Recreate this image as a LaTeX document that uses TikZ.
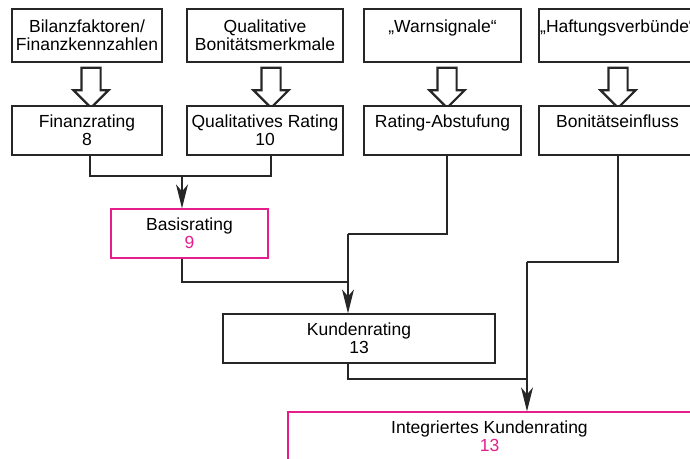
\documentclass[tikz,border=0pt]{standalone}
\usepackage{fontspec}
\setmainfont{Liberation Sans}
\usetikzlibrary{shapes.arrows, arrows.meta}
\definecolor{rosa}{RGB}{230,30,140}
\tikzstyle{box} = [rectangle, minimum height=49pt, inner sep=0pt, text centered, align=center, draw=black!85, line width=1.3pt, fill=white]
\tikzstyle{topbox} = [box, minimum height=53pt]
\tikzstyle{pbox} = [box, draw=rosa]
\tikzstyle{hollow} = [single arrow, draw=black!85, line width=2.2pt, shape border rotate=270, minimum height=40pt, single arrow head extend=8pt, inner sep=8.5pt]
\tikzstyle{line} = [line width=1.2pt, draw=black!85]
\tikzstyle{arrow} = [line, -{Stealth[length=24pt, width=12pt, inset=7pt]}]

\begin{document}
\begin{tikzpicture}[x=1pt, y=-1pt, font=\fontsize{17.5}{17.7}\selectfont]
\useasboundingbox (0,0) rectangle (690,458);

% obere Reihe
\node (bil) [topbox, minimum width=150pt] at (87,35.5) {Bilanzfaktoren/\\Finanzkennzahlen};
\node (qual) [topbox, minimum width=156pt] at (265,35.5) {Qualitative\\Bonitätsmerkmale};
\node (warn) [topbox, minimum width=157pt] at (442.5,35.5) {„Warnsignale“\\~};
\node (haft) [topbox, minimum width=157pt] at (617.5,35.5) {„Haftungsverbünde“\\~};

\node (h1) [hollow] at (91,83) {};
\node (h2) [hollow] at (271,83) {};
\node (h3) [hollow] at (447,83) {};
\node (h4) [hollow] at (618,83) {};

% zweite Reihe
\node (fin) [box, minimum width=150pt] at (87,130.5) {Finanzrating\\8};
\node (qrat) [box, minimum width=156pt] at (265,130.5) {Qualitatives Rating\\10};
\node (abst) [box, minimum width=157pt] at (442.5,130.5) {Rating-Abstufung\\~};
\node (bon) [box, minimum width=157pt] at (617.5,130.5) {Bonitätseinfluss\\~};

\node (basis) [pbox, minimum width=157pt] at (189.5,233.5) {Basisrating\\\textcolor{rosa}{9}};
\node (kunden) [box, minimum width=272pt] at (359,338.5) {Kundenrating\\13};
\node (integ) [pbox, minimum width=403pt] at (489.5,436.5) {Integriertes Kundenrating\\\textcolor{rosa}{13}};

\coordinate (j1) at (182,176);
\coordinate (j2) at (348,234);
\coordinate (j3) at (348,282);
\coordinate (j4) at (527,262);
\coordinate (j5) at (527,379);

\draw [line] ([xshift=3pt]fin.south) |- (j1) -| ([xshift=6pt]qrat.south);
\draw [arrow] (j1) -- (j1 |- basis.north);

\draw [line] ([xshift=4.5pt]abst.south) |- (j2);
\draw [line] ([xshift=-7.5pt]basis.south) |- (j3);
\draw [arrow] (j2) -- (j2 |- kunden.north);

\draw [line] ([xshift=0.5pt]bon.south) |- (j4);
\draw [line] ([xshift=-11pt]kunden.south) |- (j5);
\draw [arrow] (j4) -- (j4 |- integ.north);

\end{tikzpicture}
\end{document}
